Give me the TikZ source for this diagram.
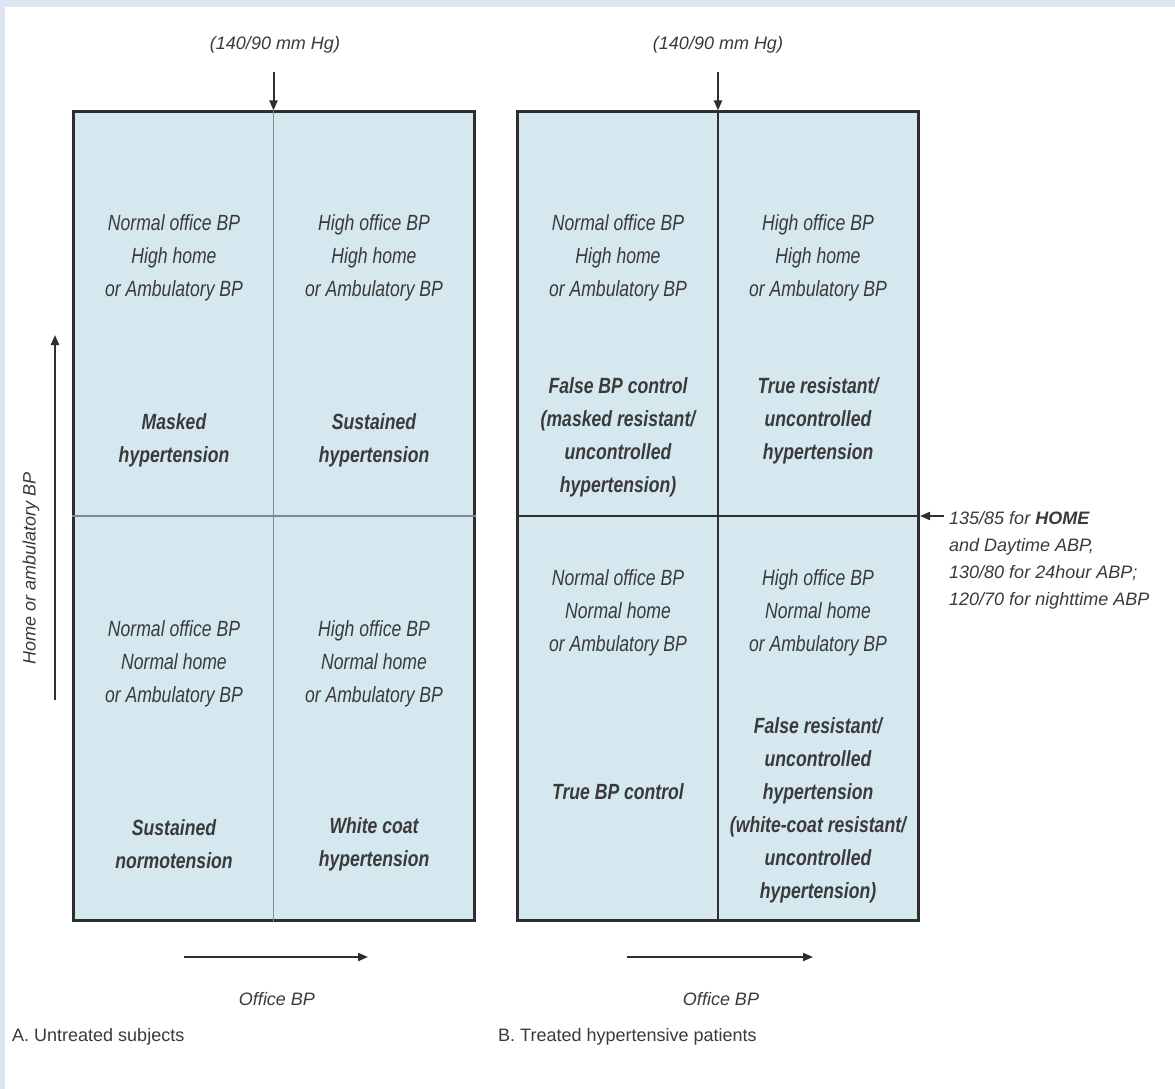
\documentclass[tikz,border=0pt]{standalone}
\usepackage{fontspec}
\setmainfont{Liberation Sans}[FakeStretch=0.8]
\newfontfamily\plainsans{Liberation Sans}
\usetikzlibrary{arrows.meta}

\definecolor{framebg}{HTML}{DCE5F0}
\definecolor{cellfill}{HTML}{D5E8EF}
\definecolor{ink}{HTML}{2E2E2E}
\definecolor{txt}{HTML}{3A3A3A}
\definecolor{thinrule}{HTML}{7A8A90}

\begin{document}
\begin{tikzpicture}[x=1pt, y=-1pt,
  panel/.style={draw=ink, line width=3pt, fill=cellfill, minimum width=401pt,
    minimum height=808pt, inner sep=0pt},
  desc/.style={align=center, text=txt, inner sep=0pt,
    font=\fontsize{22}{33}\selectfont\itshape},
  verdict/.style={align=center, text=txt, inner sep=0pt,
    font=\fontsize{22}{33}\selectfont\bfseries\itshape},
  note/.style={text=txt, inner sep=0pt, font=\plainsans\fontsize{18}{22}\selectfont\itshape},
  axislabel/.style={text=txt, inner sep=0pt, font=\plainsans\fontsize{18}{22}\selectfont\itshape},
  caption/.style={text=txt, inner sep=0pt, anchor=west, font=\plainsans\fontsize{18}{22}\selectfont},
  cut/.style={align=left, text=txt, inner sep=0pt, anchor=north west,
    font=\plainsans\fontsize{18}{27}\selectfont\itshape},
  pointer/.style={draw=ink, line width=2pt, -{Triangle[length=10pt,width=8pt]}},
  softrule/.style={draw=thinrule, line width=1.5pt},
  hardrule/.style={draw=ink, line width=2.5pt},
]
% page and frame strips
\fill[white] (0,0) rectangle (1175,1089);
\useasboundingbox (0,0) rectangle (1175,1089);
\fill[framebg] (0,0) rectangle (1175,7);
\fill[framebg] (0,0) rectangle (5,1089);

% the two panels
\node[panel] (pA) at (273.5,516) {};
\node[panel] (pB) at (718,516) {};
\draw[softrule] (pA.north) -- (pA.south);
\draw[softrule] (pA.west) -- (pA.east);
\draw[hardrule] (pB.north) -- (pB.south);
\draw[hardrule] (pB.west) -- (pB.east);

% threshold markers above the panels
\node[note] (thA) at (275,45) {(140/90 mm Hg)};
\node[note] (thB) at (718,45) {(140/90 mm Hg)};
\draw[pointer] (pA.north |- 0,72) -- (pA.north);
\draw[pointer] (pB.north |- 0,72) -- (pB.north);

% panel A quadrants
\node[desc] (a1) at (174,258) {Normal office BP\\High home\\or Ambulatory BP};
\node[verdict] (a1v) at (174,440) {Masked\\hypertension};
\node[desc] (a2) at (374,258) {High office BP\\High home\\or Ambulatory BP};
\node[verdict] (a2v) at (374,440) {Sustained\\hypertension};
\node[desc] (a3) at (174,664) {Normal office BP\\Normal home\\or Ambulatory BP};
\node[verdict] (a3v) at (174,844) {Sustained\\normotension};
\node[desc] (a4) at (374,664) {High office BP\\Normal home\\or Ambulatory BP};
\node[verdict] (a4v) at (374,844) {White coat\\hypertension};

% panel B quadrants
\node[desc] (b1) at (618,258) {Normal office BP\\High home\\or Ambulatory BP};
\node[verdict] (b1v) at (618,437) {False BP control\\(masked resistant/\\uncontrolled\\hypertension)};
\node[desc] (b2) at (818,258) {High office BP\\High home\\or Ambulatory BP};
\node[verdict] (b2v) at (818,421) {True resistant/\\uncontrolled\\hypertension};
\node[desc] (b3) at (618,613) {Normal office BP\\Normal home\\or Ambulatory BP};
\node[verdict] (b3v) at (618,792) {True BP control};
\node[desc] (b4) at (818,613) {High office BP\\Normal home\\or Ambulatory BP};
\node[verdict] (b4v) at (818,810) {False resistant/\\uncontrolled\\hypertension\\(white-coat resistant/\\uncontrolled\\hypertension)};

% out-of-office thresholds
\node[cut] (cutoff) at (949,511) {135/85 for \textbf{HOME}\\and Daytime ABP,\\130/80 for 24hour ABP;\\120/70 for nighttime ABP};
\coordinate (cutarrow) at (944,516);
\draw[pointer] (cutarrow) -- (pB.east);

% vertical axis
\coordinate (yfoot) at (55,700);
\coordinate (yhead) at (55,335);
\draw[pointer] (yfoot) -- (yhead);
\node[axislabel, rotate=90] (ylab) at (31,568) {Home or ambulatory BP};

% horizontal axes
\coordinate (xAfoot) at (184,957);
\coordinate (xAhead) at (368,957);
\coordinate (xBfoot) at (627,957);
\coordinate (xBhead) at (813,957);
\draw[pointer] (xAfoot) -- (xAhead);
\draw[pointer] (xBfoot) -- (xBhead);
\node[axislabel] (xlabA) at (277,999) {Office BP};
\node[axislabel] (xlabB) at (721,999) {Office BP};

% panel captions
\node[caption] (capA) at (12,1037) {A. Untreated subjects};
\node[caption] (capB) at (498,1037) {B. Treated hypertensive patients};
\end{tikzpicture}
\end{document}
